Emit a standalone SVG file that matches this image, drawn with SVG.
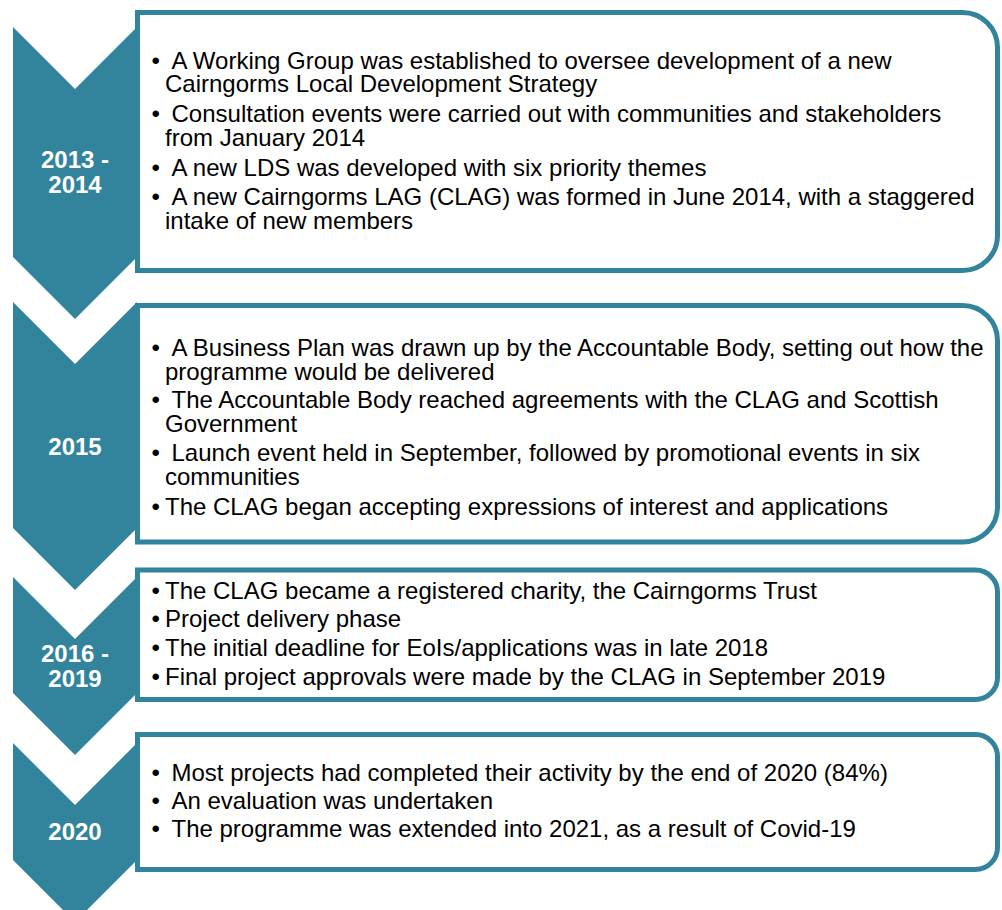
<svg xmlns="http://www.w3.org/2000/svg" width="1002" height="910" viewBox="0 0 1002 910">
  <style>
    .chev { fill: #31849B; }
    .box { fill: #FFFFFF; stroke: #31849B; stroke-width: 5; }
    .year { font-family: "Liberation Sans", Arial, sans-serif; font-size: 24px; font-weight: bold; fill: #FFFFFF; text-anchor: middle; }
    .item { font-family: "Liberation Sans", Arial, sans-serif; font-size: 24px; fill: #000000; }
  </style>
  <rect x="0" y="0" width="1002" height="910" fill="#FFFFFF"/>

  <!-- Stage 1: 2013 - 2014 -->
  <g id="stage-2013-2014">
    <path class="chev" d="M13,27 L75,89 L137,27 L137,257 L75,319 L13,257 Z"/>
    <path class="box" d="M137.5,12.5 H962.5 A35,35 0 0 1 997.5,47.5 V235.5 A35,35 0 0 1 962.5,270.5 H137.5 Z"/>
    <text class="year" x="75" y="168">2013 -</text>
    <text class="year" x="75" y="193">2014</text>
    <text class="item" x="151.5" y="68.5">•</text>
    <text class="item" x="171.5" y="68.5">A Working Group was established to oversee development of a new</text>
    <text class="item" x="165" y="92">Cairngorms Local Development Strategy</text>
    <text class="item" x="151.5" y="122">•</text>
    <text class="item" x="171.5" y="122">Consultation events were carried out with communities and stakeholders</text>
    <text class="item" x="165" y="145.5">from January 2014</text>
    <text class="item" x="151.5" y="176">•</text>
    <text class="item" x="171.5" y="176">A new LDS was developed with six priority themes</text>
    <text class="item" x="151.5" y="205">•</text>
    <text class="item" x="171.5" y="205">A new Cairngorms LAG (CLAG) was formed in June 2014, with a staggered</text>
    <text class="item" x="165" y="228.5">intake of new members</text>
  </g>

  <!-- Stage 2: 2015 -->
  <g id="stage-2015">
    <path class="chev" d="M13,302 L75,364 L137,302 L137,528 L75,590 L13,528 Z"/>
    <path class="box" d="M137.5,305.5 H962.5 A35,35 0 0 1 997.5,340.5 V507 A35,35 0 0 1 962.5,542 H137.5 Z"/>
    <text class="year" x="75" y="455">2015</text>
    <text class="item" x="151.5" y="356">•</text>
    <text class="item" x="171.5" y="356">A Business Plan was drawn up by the Accountable Body, setting out how the</text>
    <text class="item" x="165" y="379.5">programme would be delivered</text>
    <text class="item" x="151.5" y="408">•</text>
    <text class="item" x="171.5" y="408">The Accountable Body reached agreements with the CLAG and Scottish</text>
    <text class="item" x="165" y="431.5">Government</text>
    <text class="item" x="151.5" y="461">•</text>
    <text class="item" x="171.5" y="461">Launch event held in September, followed by promotional events in six</text>
    <text class="item" x="165" y="484.5">communities</text>
    <text class="item" x="151.5" y="514.5">•</text>
    <text class="item" x="165" y="514.5">The CLAG began accepting expressions of interest and applications</text>
  </g>

  <!-- Stage 3: 2016 - 2019 -->
  <g id="stage-2016-2019">
    <path class="chev" d="M13,577 L75,639 L137,577 L137,693 L75,755 L13,693 Z"/>
    <path class="box" d="M137.5,570 H975.5 A22,22 0 0 1 997.5,592 V677.5 A22,22 0 0 1 975.5,699.5 H137.5 Z"/>
    <text class="year" x="75" y="662">2016 -</text>
    <text class="year" x="75" y="687">2019</text>
    <text class="item" x="151.5" y="598.5">•</text>
    <text class="item" x="165" y="598.5">The CLAG became a registered charity, the Cairngorms Trust</text>
    <text class="item" x="151.5" y="627">•</text>
    <text class="item" x="165" y="627">Project delivery phase</text>
    <text class="item" x="151.5" y="655.5">•</text>
    <text class="item" x="165" y="655.5">The initial deadline for EoIs/applications was in late 2018</text>
    <text class="item" x="151.5" y="685">•</text>
    <text class="item" x="165" y="685">Final project approvals were made by the CLAG in September 2019</text>
  </g>

  <!-- Stage 4: 2020 -->
  <g id="stage-2020">
    <path class="chev" d="M13,743 L75,805 L137,743 L137,860 L75,922 L13,860 Z"/>
    <path class="box" d="M137.5,734.5 H975.5 A22,22 0 0 1 997.5,756.5 V847.5 A22,22 0 0 1 975.5,869.5 H137.5 Z"/>
    <text class="year" x="75" y="840">2020</text>
    <text class="item" x="151.5" y="781">•</text>
    <text class="item" x="171.5" y="781">Most projects had completed their activity by the end of 2020 (84%)</text>
    <text class="item" x="151.5" y="809">•</text>
    <text class="item" x="171.5" y="809">An evaluation was undertaken</text>
    <text class="item" x="151.5" y="837">•</text>
    <text class="item" x="171.5" y="837">The programme was extended into 2021, as a result of Covid-19</text>
  </g>

  <!-- no connectors: the chevrons carry the sequence -->
  <g id="connectors"/>
</svg>
